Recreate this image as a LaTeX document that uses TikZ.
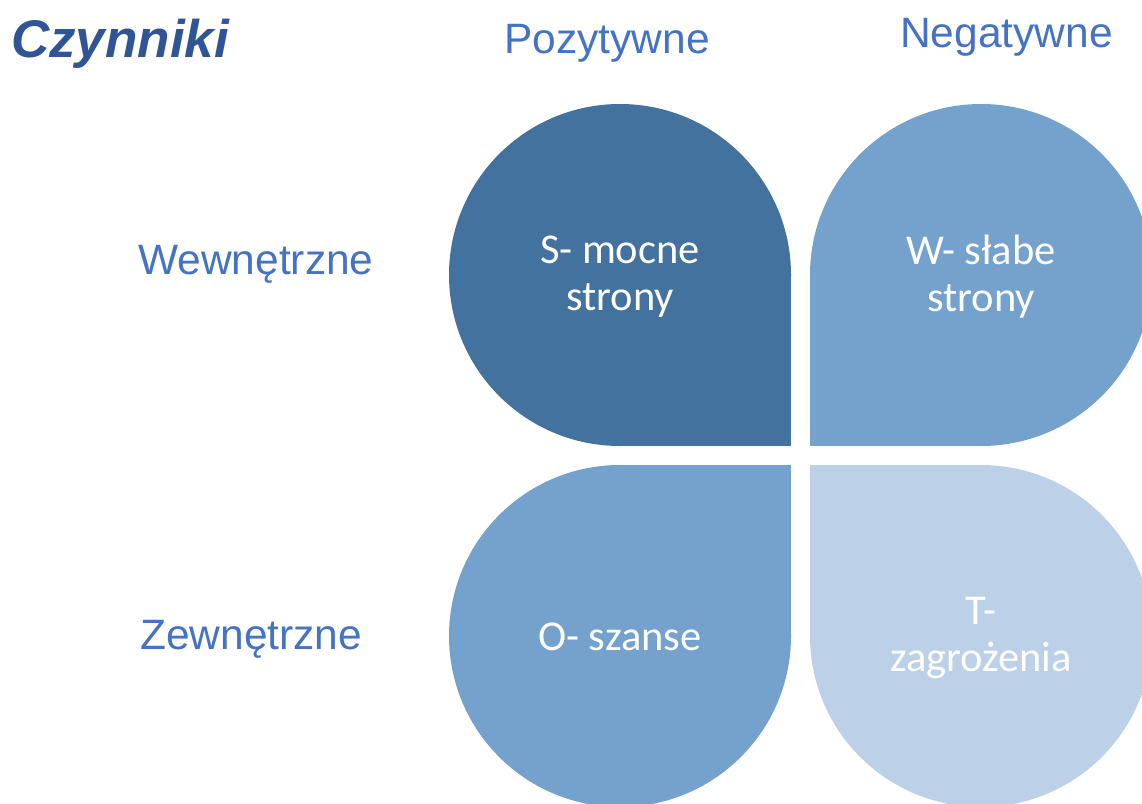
\documentclass[tikz,border=0pt]{standalone}
\usepackage{fontspec}
\setmainfont{Liberation Sans}
\newfontfamily\leaffont{Carlito}
\usetikzlibrary{positioning}

\definecolor{darkleaf}{RGB}{67,114,158}
\definecolor{midleaf}{RGB}{117,161,205}
\definecolor{paleleaf}{RGB}{188,208,232}
\definecolor{lblblue}{RGB}{68,114,196}
\definecolor{ttlblue}{RGB}{47,85,151}

\begin{document}
\begin{tikzpicture}[
  x=1pt,y=-1pt,
  lbl/.style={anchor=base west,inner sep=0pt,text=lblblue,
              font=\fontsize{42.5}{48}\selectfont},
  leaftxt/.style={align=center,text=white,inner sep=0pt,
              font=\leaffont\fontsize{42.5}{47}\selectfont}]
\useasboundingbox (0,0) rectangle (1142,803);
\clip (0,0) rectangle (1142,803);
% four leaves: centre, sharp corner, colour
\foreach \cx/\cy/\kx/\ky/\col in {620/275/791/446/darkleaf,
    981/275/810/446/midleaf, 620/636/791/465/midleaf,
    981/636/810/465/paleleaf}{
  \fill[\col] (\cx,\cy) circle[radius=171pt];
  \fill[\col] (\cx,\cy) rectangle (\kx,\ky);
}
\node[anchor=base west,inner sep=0pt,text=ttlblue,
      font=\fontsize{53}{60}\selectfont\bfseries\itshape] (title) at (11,57) {Czynniki};
\node[lbl] (pos) at (504,53) {Pozytywne};
\node[lbl] (neg) at (900,47) {Negatywne};
\node[lbl] (wew) at (138,274) {Wewnętrzne};
\node[lbl] (zew) at (140,649) {Zewnętrzne};
\node[leaftxt] (s) at (620,277) {S- mocne\\ strony};
\node[leaftxt] (w) at (981,277) {W- słabe\\ strony};
\node[leaftxt] (o) at (620,637) {O- szanse};
\node[leaftxt] (t) at (981,638) {T-\\ zagrożenia};
\end{tikzpicture}
\end{document}
